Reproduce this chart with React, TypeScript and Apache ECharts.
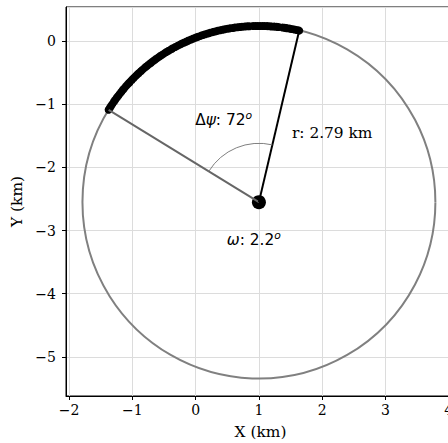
import React, { useEffect, useRef } from "react";
import * as echarts from "echarts";

// circle fit (km)
const center: [number, number] = [1.0, -2.55];
const radius = 2.79;
const omegaDeg = 2.2;
const deltaPsiDeg = 72;

// azimuth (deg, counter-clockwise from +X) of each observed point on the arc
const pointAngles = [
  148.4, 147.6, 146.9, 146.1, 145.2, 144.5, 143.6, 142.8, 142.1, 141.2, 140.4, 139.7,
  138.8, 137.9, 137.2, 136.3, 135.5, 134.8, 133.9, 133.1, 132.2, 131.5, 130.6, 129.8,
  129.0, 128.1, 127.4, 126.5, 125.7, 124.9, 124.0, 123.3, 122.4, 121.6, 120.8, 119.9,
  119.2, 118.3, 117.5, 116.6, 115.9, 115.0, 114.2, 113.5, 112.6, 111.8, 110.9, 110.2,
  109.3, 108.5, 107.7, 106.8, 106.1, 105.2, 104.4, 103.6, 102.7, 101.9, 101.2, 100.3,
  99.5, 98.6, 97.9, 97.0, 96.2, 95.5, 94.6, 93.8, 93.1,
  91.9, 91.1, 90.4, 89.6, 88.8, 88.1, 87.3, 86.5, 85.8, 85.0, 84.2, 83.6,
  82.3, 81.6, 80.9, 80.0, 79.3, 78.4, 77.6, 76.8,
];

const xRange = [-2.05, 4.1];
const yRange = [-5.62, 0.54];

const FONT = "DejaVu Serif";
const MATH = "DejaVu Sans";

const toXY = (deg: number, r: number): [number, number] => {
  const t = (deg * Math.PI) / 180;
  return [center[0] + r * Math.cos(t), center[1] + r * Math.sin(t)];
};

const minus = (v: number) => String(v).replace("-", "\u2212");

export default function App() {
  const ref = useRef<HTMLDivElement>(null);
  useEffect(() => {
    if (!ref.current) return;
    const chart = echarts.init(ref.current, undefined, { renderer: "svg" });
    const pts = pointAngles.map((a) => toXY(a, radius));
    const startA = pointAngles[0];
    const endA = pointAngles[pointAngles.length - 1];
    const startP = toXY(startA, radius);
    const endP = toXY(endA, radius);

    const rich = {
      n: { fontFamily: FONT, fontSize: 15.4, color: "#000", lineHeight: 20, verticalAlign: "middle" },
      m: { fontFamily: MATH, fontSize: 15.4, color: "#000", lineHeight: 20, verticalAlign: "middle" },
      i: { fontFamily: MATH, fontSize: 15.4, color: "#000", fontStyle: "italic", lineHeight: 20, verticalAlign: "middle" },
      s: { fontFamily: MATH, fontSize: 10.8, color: "#000", fontStyle: "italic", verticalAlign: "top", lineHeight: 10 },
    };

    const annotations = [
      { value: [0.0, -1.25], text: `{m|Δ}{i|ψ}{m|: ${deltaPsiDeg}}{s|o}` },
      { value: [1.53, -1.47], text: `{n|r: ${radius.toFixed(2)} km}` },
      { value: [0.5, -3.15], text: `{i|ω}{m|: ${omegaDeg}}{s|o}` },
    ];

    const axisCommon = {
      minInterval: 1,
      maxInterval: 1,
      axisLine: { show: true, onZero: false, lineStyle: { color: "#000", width: 1 } },
      axisTick: { show: true, inside: false, length: 4, lineStyle: { color: "#000", width: 1 } },
      splitLine: { show: true, lineStyle: { color: "#dcdcdc", width: 1 } },
      nameLocation: "middle" as const,
      nameTextStyle: { fontFamily: FONT, fontSize: 15.4, color: "#000" },
    };

    chart.setOption({
      animation: false,
      grid: {
        left: 66,
        top: 7,
        bottom: 47,
        right: -7,
        outerBoundsMode: "none",
        containLabel: false,
        show: true,
        borderColor: "#000",
        borderWidth: 1,
        backgroundColor: "transparent",
      },
      xAxis: {
        type: "value",
        min: xRange[0],
        max: xRange[1],
        ...axisCommon,
        name: "X (km)",
        nameGap: 28,
        axisLabel: {
          showMinLabel: false,
          showMaxLabel: false,
          margin: 7,
          fontFamily: FONT,
          fontSize: 14,
          color: "#000",
          formatter: minus,
        },
      },
      yAxis: {
        type: "value",
        min: yRange[0],
        max: yRange[1],
        ...axisCommon,
        name: "Y (km)",
        nameGap: 42,
        axisLabel: {
          showMinLabel: false,
          showMaxLabel: false,
          margin: 10,
          fontFamily: FONT,
          fontSize: 14,
          color: "#000",
          formatter: minus,
        },
      },
      series: [
        {
          type: "custom",
          z: 1,
          data: [[center[0], center[1], radius]],
          renderItem: (_p: any, api: any) => {
            const c = api.coord([api.value(0), api.value(1)]);
            const r = api.size([api.value(2), 0])[0];
            return {
              type: "circle",
              shape: { cx: c[0], cy: c[1], r },
              style: { fill: "none", stroke: "#808080", lineWidth: 2 },
            };
          },
        },
        {
          type: "scatter",
          z: 2,
          data: pts,
          symbolSize: 8,
          itemStyle: { color: "#000", opacity: 1 },
        },
        {
          type: "scatter",
          z: 3,
          data: [center],
          symbolSize: 14,
          itemStyle: { color: "#000", opacity: 1 },
        },
        {
          type: "line",
          z: 4,
          data: [center, startP],
          symbol: "none",
          lineStyle: { color: "#666666", width: 2 },
        },
        {
          type: "line",
          z: 4,
          data: [center, endP],
          symbol: "none",
          lineStyle: { color: "#000", width: 2 },
        },
        {
          type: "custom",
          z: 5,
          data: [[center[0], center[1], radius / 3, startA, endA]],
          renderItem: (_p: any, api: any) => {
            const c = api.coord([api.value(0), api.value(1)]);
            const r = api.size([api.value(2), 0])[0];
            const a0 = (-api.value(3) * Math.PI) / 180;
            const a1 = (-api.value(4) * Math.PI) / 180;
            return {
              type: "arc",
              shape: { cx: c[0], cy: c[1], r, startAngle: a0, endAngle: a1, clockwise: true },
              style: { fill: "none", stroke: "#808080", lineWidth: 1 },
            };
          },
        },
        {
          type: "scatter",
          z: 6,
          symbolSize: 1,
          itemStyle: { color: "transparent", opacity: 1 },
          data: annotations.map((a) => ({ value: a.value, text: a.text })),
          label: {
            show: true,
            position: [0, 0],
            align: "left",
            verticalAlign: "middle",
            formatter: (p: any) => p.data.text,
            rich,
          },
        },
      ],
    });
    return () => chart.dispose();
  }, []);
  return <div ref={ref} style={{ width: 448, height: 443, position: "absolute", left: 0, top: 0 }} />;
}
